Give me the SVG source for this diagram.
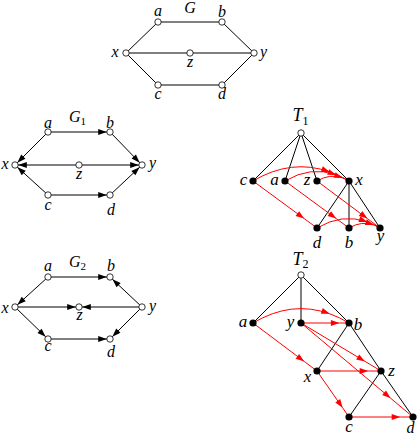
<svg xmlns="http://www.w3.org/2000/svg" width="417" height="437" viewBox="0 0 417 437">
<style>
.e{stroke:#000;stroke-width:1;fill:none}
.ea{stroke:#000;stroke-width:1;fill:none;marker-end:url(#ba)}
.r{stroke:#f00;stroke-width:1;fill:none;marker-mid:url(#ra)}
.o{fill:#fff;stroke:#000;stroke-width:0.8}
.f{fill:#000}
.l{font-family:"Liberation Serif","DejaVu Serif",serif;font-style:italic;font-size:16px;text-anchor:middle;fill:#000}
.lt{font-size:17px}
.s{font-size:11px;font-style:normal}
</style>
<defs>
<marker id="ba" markerUnits="userSpaceOnUse" markerWidth="10" markerHeight="7" refX="11.8" refY="3" orient="auto" overflow="visible"><path d="M0,0 L8.5,3 L0,6 z" fill="#000"/></marker>
<marker id="ra" markerUnits="userSpaceOnUse" markerWidth="10" markerHeight="7" refX="8.5" refY="3" orient="auto" overflow="visible"><path d="M0,0 L8.5,3 L0,6 z" fill="#f00"/></marker>
</defs>

<!-- ===== G ===== -->
<g id="G-connectors">
<line class="e" x1="158" y1="22" x2="222" y2="22"/>
<line class="e" x1="222" y1="22" x2="254" y2="53"/>
<line class="e" x1="158" y1="22" x2="126" y2="53"/>
<line class="e" x1="126" y1="53" x2="254" y2="53"/>
<line class="e" x1="126" y1="53" x2="158" y2="85"/>
<line class="e" x1="158" y1="85" x2="222" y2="85"/>
<line class="e" x1="222" y1="85" x2="254" y2="53"/>
</g>
<text class="l" x="190" y="12.5">G</text>
<g id="G-a"><circle class="o" cx="158" cy="22" r="3.2"/><text class="l" x="158" y="16">a</text></g>
<g id="G-b"><circle class="o" cx="222" cy="22" r="3.2"/><text class="l" x="222" y="16.5">b</text></g>
<g id="G-x"><circle class="o" cx="126" cy="53" r="3.2"/><text class="l" x="115" y="57">x</text></g>
<g id="G-z"><circle class="o" cx="190" cy="53" r="3.2"/><text class="l" x="190" y="66.5">z</text></g>
<g id="G-y"><circle class="o" cx="254" cy="53" r="3.2"/><text class="l" x="263.5" y="56.5">y</text></g>
<g id="G-c"><circle class="o" cx="158" cy="85" r="3.2"/><text class="l" x="158" y="98.5">c</text></g>
<g id="G-d"><circle class="o" cx="222" cy="85" r="3.2"/><text class="l" x="222" y="99">d</text></g>

<!-- ===== G1 ===== -->
<g id="G1-connectors">
<line class="ea" x1="48" y1="132" x2="110" y2="132"/>
<line class="ea" x1="110" y1="132" x2="142" y2="165"/>
<line class="ea" x1="48" y1="132" x2="15" y2="165"/>
<line class="ea" x1="79" y1="165" x2="15" y2="165"/>
<line class="ea" x1="79" y1="165" x2="142" y2="165"/>
<line class="ea" x1="48" y1="195" x2="15" y2="165"/>
<line class="ea" x1="48" y1="195" x2="110" y2="195"/>
<line class="ea" x1="110" y1="195" x2="142" y2="165"/>
</g>
<text class="l" x="69" y="122" style="text-anchor:start">G<tspan class="s" dy="3">1</tspan></text>
<g id="G1-a"><circle class="o" cx="48" cy="132" r="3.2"/><text class="l" x="48" y="127.5">a</text></g>
<g id="G1-b"><circle class="o" cx="110" cy="132" r="3.2"/><text class="l" x="110" y="127.5">b</text></g>
<g id="G1-x"><circle class="o" cx="15" cy="165" r="3.2"/><text class="l" x="5" y="168.5">x</text></g>
<g id="G1-z"><circle class="o" cx="79" cy="165" r="3.2"/><text class="l" x="79" y="178.5">z</text></g>
<g id="G1-y"><circle class="o" cx="142" cy="165" r="3.2"/><text class="l" x="152.5" y="168">y</text></g>
<g id="G1-c"><circle class="o" cx="48" cy="195" r="3.2"/><text class="l" x="48" y="210">c</text></g>
<g id="G1-d"><circle class="o" cx="110" cy="195" r="3.2"/><text class="l" x="111" y="214.5">d</text></g>

<!-- ===== G2 ===== -->
<g id="G2-connectors">
<line class="ea" x1="48" y1="277" x2="110" y2="277"/>
<line class="ea" x1="142" y1="307" x2="110" y2="277"/>
<line class="ea" x1="48" y1="277" x2="15" y2="307"/>
<line class="ea" x1="15" y1="307" x2="79" y2="307"/>
<line class="ea" x1="142" y1="307" x2="79" y2="307"/>
<line class="ea" x1="15" y1="307" x2="48" y2="339"/>
<line class="ea" x1="48" y1="339" x2="110" y2="339"/>
<line class="ea" x1="142" y1="307" x2="110" y2="339"/>
</g>
<text class="l" x="69" y="266.5" style="text-anchor:start">G<tspan class="s" dy="3">2</tspan></text>
<g id="G2-a"><circle class="o" cx="48" cy="277" r="3.2"/><text class="l" x="48" y="271">a</text></g>
<g id="G2-b"><circle class="o" cx="110" cy="277" r="3.2"/><text class="l" x="111" y="271">b</text></g>
<g id="G2-x"><circle class="o" cx="15" cy="307" r="3.2"/><text class="l" x="5" y="312.5">x</text></g>
<g id="G2-z"><circle class="o" cx="79" cy="307" r="3.2"/><text class="l" x="79.5" y="320">z</text></g>
<g id="G2-y"><circle class="o" cx="142" cy="307" r="3.2"/><text class="l" x="152.5" y="311">y</text></g>
<g id="G2-c"><circle class="o" cx="48" cy="339" r="3.2"/><text class="l" x="48" y="350.5">c</text></g>
<g id="G2-d"><circle class="o" cx="110" cy="339" r="3.2"/><text class="l" x="111" y="357">d</text></g>

<!-- ===== T1 ===== -->
<g id="T1-connectors">
<line class="e" x1="301" y1="133" x2="253" y2="181"/>
<line class="e" x1="301" y1="133" x2="285" y2="181"/>
<line class="e" x1="301" y1="133" x2="317" y2="181"/>
<line class="e" x1="301" y1="133" x2="349" y2="181"/>
<line class="e" x1="349" y1="181" x2="317" y2="228"/>
<line class="e" x1="349" y1="181" x2="349" y2="228"/>
<line class="e" x1="349" y1="181" x2="380" y2="228"/>
<path class="r" d="M253,181 Q291.4,158.2 329.8,171.9 Q339.4,175.3 349,181"/>
<path class="r" d="M285,181 Q310.6,165.6 336.2,174.9 Q342.6,177.2 349,181"/>
<path class="r" d="M317,181 Q329.8,173.3 342.6,177.9 Q345.8,179.1 349,181"/>
<path class="r" d="M253,181 L304.2,218.6 L317,228"/>
<path class="r" d="M285,181 L336.2,218.6 L349,228"/>
<path class="r" d="M317,181 L367.4,218.6 L380,228"/>
<path class="r" d="M317,228 Q342.2,212.9 367.4,222 Q373.7,224.2 380,228"/>
<path class="r" d="M349,228 Q361.4,220.6 373.8,225 Q376.9,226.1 380,228"/>
</g>
<text class="l" x="292.5" y="121" style="text-anchor:start;font-size:18px">T<tspan class="s" dy="3.5" style="font-size:12px">1</tspan></text>
<g id="T1-root"><circle class="o" cx="301" cy="133" r="3.2"/></g>
<g id="T1-c"><circle class="f" cx="253" cy="181" r="3.6"/><text class="l lt" x="243.5" y="185">c</text></g>
<g id="T1-a"><circle class="f" cx="285" cy="181" r="3.6"/><text class="l lt" x="274.5" y="185">a</text></g>
<g id="T1-z"><circle class="f" cx="317" cy="181" r="3.6"/><text class="l lt" x="307" y="185">z</text></g>
<g id="T1-x"><circle class="f" cx="349" cy="181" r="3.6"/><text class="l lt" x="359" y="185">x</text></g>
<g id="T1-d"><circle class="f" cx="317" cy="228" r="3.6"/><text class="l lt" x="317" y="248">d</text></g>
<g id="T1-b"><circle class="f" cx="349" cy="228" r="3.6"/><text class="l lt" x="349" y="248">b</text></g>
<g id="T1-y"><circle class="f" cx="380" cy="228" r="3.6"/><text class="l lt" x="380.5" y="240.5">y</text></g>

<!-- ===== T2 ===== -->
<g id="T2-connectors">
<line class="e" x1="301" y1="275" x2="253" y2="323"/>
<line class="e" x1="301" y1="275" x2="301" y2="323"/>
<line class="e" x1="301" y1="275" x2="349" y2="323"/>
<line class="e" x1="349" y1="323" x2="317" y2="371"/>
<line class="e" x1="349" y1="323" x2="381" y2="371"/>
<line class="e" x1="381" y1="371" x2="349" y2="417"/>
<line class="e" x1="381" y1="371" x2="413" y2="417"/>
<path class="r" d="M253,323 Q291.4,300 329.8,313.8 Q339.4,317.2 349,323"/>
<path class="r" d="M301,323 L339.4,323 L349,323"/>
<path class="r" d="M253,323 L304.2,361.4 L317,371"/>
<path class="r" d="M301,323 L365,361.4 L381,371"/>
<path class="r" d="M301,323 L390.6,398.2 L413,417"/>
<path class="r" d="M317,371 L368.2,371 L381,371"/>
<path class="r" d="M317,371 L342.6,407.8 L349,417"/>
<path class="r" d="M349,417 L400.2,417 L413,417"/>
</g>
<text class="l" x="292.5" y="265" style="text-anchor:start;font-size:18px">T<tspan class="s" dy="3" style="font-size:12px">2</tspan></text>
<g id="T2-root"><circle class="o" cx="301" cy="275" r="3.2"/></g>
<g id="T2-a"><circle class="f" cx="253" cy="323" r="3.6"/><text class="l lt" x="243" y="327">a</text></g>
<g id="T2-y"><circle class="f" cx="301" cy="323" r="3.6"/><text class="l lt" x="290.5" y="326.5">y</text></g>
<g id="T2-b"><circle class="f" cx="349" cy="323" r="3.6"/><text class="l lt" x="358" y="329.5">b</text></g>
<g id="T2-x"><circle class="f" cx="317" cy="371" r="3.6"/><text class="l lt" x="307.5" y="382">x</text></g>
<g id="T2-z"><circle class="f" cx="381" cy="371" r="3.6"/><text class="l lt" x="391.5" y="375.5">z</text></g>
<g id="T2-c"><circle class="f" cx="349" cy="417" r="3.6"/><text class="l lt" x="349" y="431.5">c</text></g>
<g id="T2-d"><circle class="f" cx="413" cy="417" r="3.6"/><text class="l" x="410.5" y="433">d</text></g>
</svg>
